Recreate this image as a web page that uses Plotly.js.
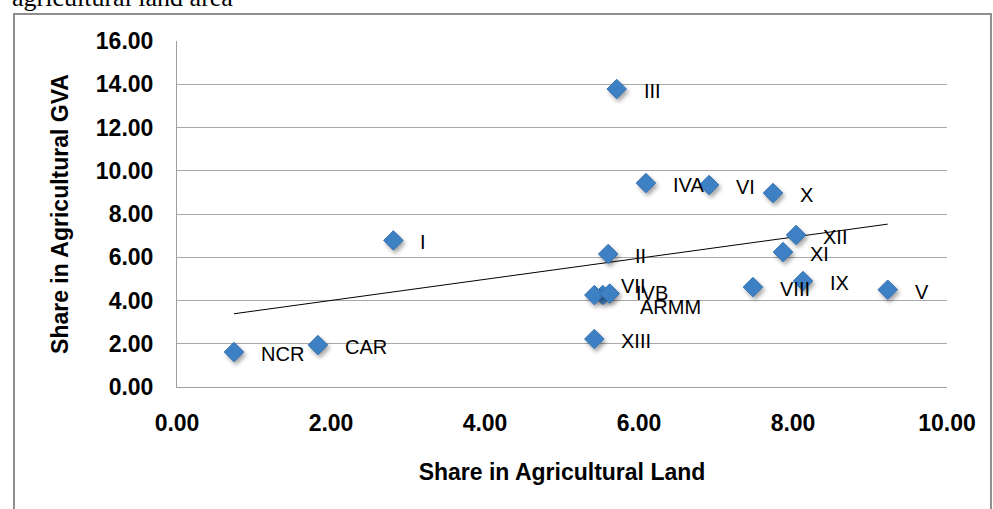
<!DOCTYPE html>
<html>
<head>
<meta charset="utf-8">
<script src="https://cdn.plot.ly/plotly-3.0.1.min.js"></script>
<style>
  html, body { margin: 0; padding: 0; background: #fff; }
  #chart { width: 993px; height: 509px; }
  #chart .scatterlayer .trace:nth-child(2) .point {
    filter: drop-shadow(2px 3px 2px rgba(0,0,0,0.35));
  }
</style>
</head>
<body>
<div id="chart"></div>
<script>
// Regional shares (%) of agricultural land and agricultural gross value added
const regions = ['NCR', 'CAR', 'I', 'II', 'III', 'IVA', 'IVB', 'V', 'VI',
                 'VII', 'VIII', 'IX', 'X', 'XI', 'XII', 'XIII', 'ARMM'];
const landShare = [0.74, 1.83, 2.81, 5.60, 5.71, 6.09, 5.53, 9.23, 6.91,
                   5.42, 7.48, 8.13, 7.74, 7.87, 8.04, 5.42, 5.62];
const gvaShare  = [1.62, 1.94, 6.78, 6.15, 13.78, 9.43, 4.25, 4.50, 9.34,
                   4.25, 4.62, 4.90, 8.97, 6.24, 7.03, 2.22, 4.32];
const xTicks = [0, 2, 4, 6, 8, 10];
const yTicks = [0, 2, 4, 6, 8, 10, 12, 14, 16];
const caption = 'agricultural land area';

// Ordinary least-squares fit of GVA share on land share
function linearFit(xs, ys) {
  const n = xs.length;
  const mx = xs.reduce((a, b) => a + b, 0) / n;
  const my = ys.reduce((a, b) => a + b, 0) / n;
  let sxy = 0, sxx = 0;
  for (let i = 0; i < n; i++) {
    sxy += (xs[i] - mx) * (ys[i] - my);
    sxx += (xs[i] - mx) * (xs[i] - mx);
  }
  const slope = sxy / sxx;
  return { slope, intercept: my - slope * mx };
}
const fit = linearFit(landShare, gvaShare);
const xMin = Math.min(...landShare), xMax = Math.max(...landShare);
const trendX = [xMin, xMax];
const trendY = trendX.map(v => fit.intercept + fit.slope * v);

const FONT = 'Liberation Sans, Arial, sans-serif';

// Per-label nudges where neighbouring labels would collide
const labelShift = {
  'VII':  { dx: 25, dy: 9 },
  'IVB':  { dx: 31, dy: 2 },
  'ARMM': { dx: 28, dy: -13 }
};

const annotations = regions.map((r, i) => {
  const s = labelShift[r] || { dx: 25, dy: -2 };
  return {
    x: landShare[i], y: gvaShare[i], xref: 'x', yref: 'y',
    text: r, showarrow: false, xanchor: 'left', yanchor: 'middle',
    xshift: s.dx, yshift: s.dy,
    font: { family: FONT, size: 20, color: '#000' }
  };
});

annotations.push({
  xref: 'paper', yref: 'paper', x: -0.215, y: 1.082,
  xanchor: 'left', yanchor: 'bottom', showarrow: false, borderpad: 0,
  text: caption,
  font: { family: 'Liberation Serif, Times New Roman, serif', size: 26, color: '#000' }
});

const traces = [
  {
    type: 'scatter', mode: 'lines', x: trendX, y: trendY,
    line: { color: '#000', width: 1 }, hoverinfo: 'skip', showlegend: false
  },
  {
    type: 'scatter', mode: 'markers', x: landShare, y: gvaShare, text: regions,
    marker: { symbol: 'diamond', size: 15, color: '#3d80c4',
              line: { color: '#3472b2', width: 1 } },
    showlegend: false
  }
];

const layout = {
  width: 993, height: 509,
  margin: { l: 177, r: 46, t: 41, b: 122 },
  paper_bgcolor: '#fff', plot_bgcolor: '#fff',
  showlegend: false,
  xaxis: {
    range: [0, 10], tickvals: xTicks, ticktext: xTicks.map(v => v.toFixed(2)),
    showgrid: false, zeroline: false, showline: true, linecolor: '#a0a0a0', linewidth: 1,
    ticks: '', ticklabelstandoff: 15,
    tickfont: { family: FONT, size: 23, color: '#000', weight: 'bold' },
    title: { text: '<b>Share in Agricultural Land</b>', standoff: 29,
             font: { family: FONT, size: 23, color: '#000' } },
    automargin: false, fixedrange: true
  },
  yaxis: {
    range: [0, 16], tickvals: yTicks, ticktext: yTicks.map(v => v.toFixed(2)),
    showgrid: true, gridcolor: '#a8a8a8', gridwidth: 1, zeroline: false,
    showline: true, linecolor: '#a0a0a0', linewidth: 1,
    ticks: '', ticklabelstandoff: 18,
    tickfont: { family: FONT, size: 23, color: '#000', weight: 'bold' },
    title: { text: '<b>Share in Agricultural GVA</b>', standoff: 20,
             font: { family: FONT, size: 23, color: '#000' } },
    automargin: false, fixedrange: true
  },
  annotations: annotations,
  shapes: [{
    type: 'rect', xref: 'paper', yref: 'paper',
    x0: -0.2117, x1: 1.0571, y0: -0.40, y1: 1.0780,
    line: { color: '#8e8e8e', width: 2 }, fillcolor: 'rgba(0,0,0,0)', layer: 'below'
  }]
};

Plotly.newPlot('chart', traces, layout, { displayModeBar: false, staticPlot: true });
</script>
</body>
</html>
